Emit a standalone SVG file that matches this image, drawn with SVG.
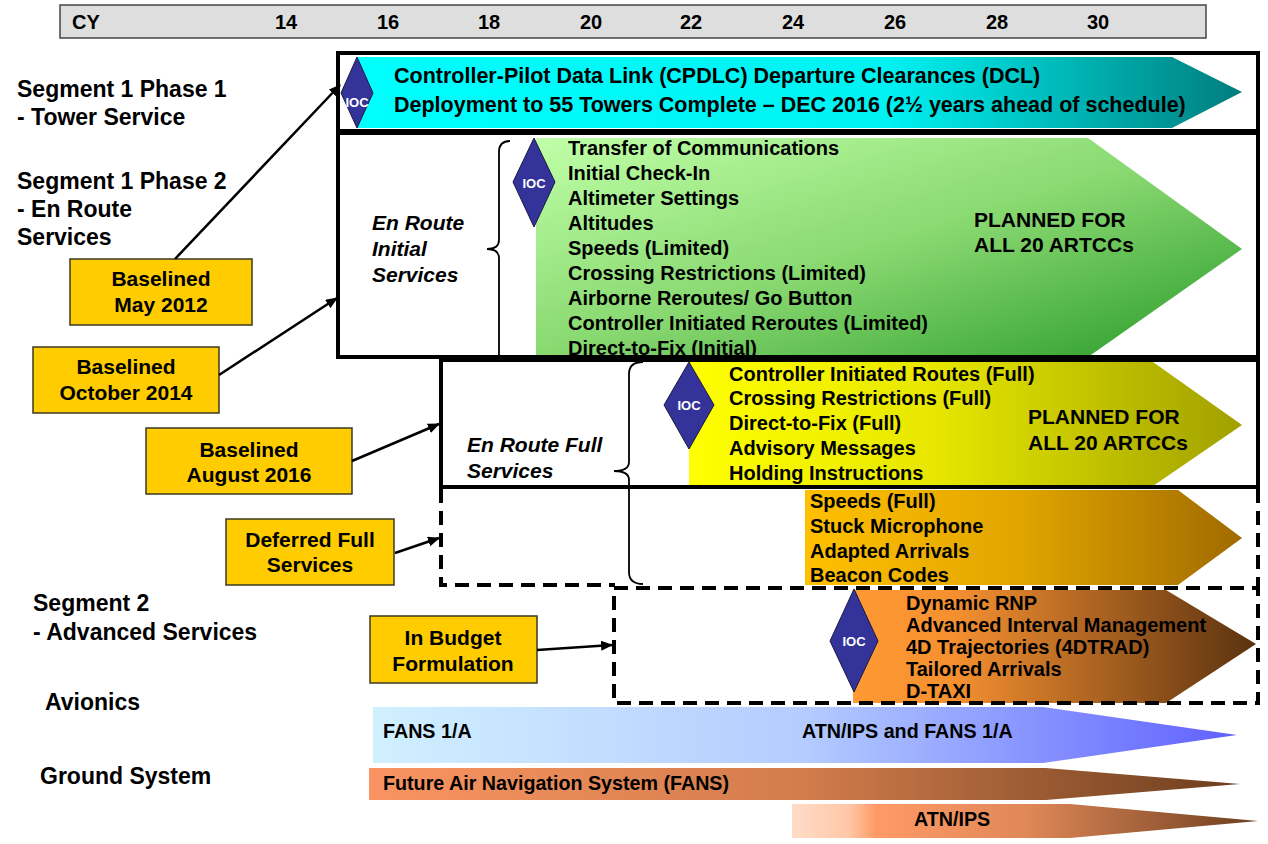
<svg xmlns="http://www.w3.org/2000/svg" width="1268" height="844" viewBox="0 0 1268 844">
<style>
text{font-family:"Liberation Sans",Arial,sans-serif;font-weight:bold;fill:#000}
.hdr{font-size:20px}
.lbl{font-size:23px}
.yb{font-size:21px}
.li{font-size:20px}
.it{font-size:21px;font-style:italic}
.pl{font-size:21px}
.bt{font-size:19.7px}
.ioc{font-size:13px;fill:#fff;text-anchor:middle}
.mid{text-anchor:middle}
.frame{fill:none;stroke:#000;stroke-width:4}
.dash{fill:none;stroke:#000;stroke-width:4;stroke-dasharray:14 8}
.ybox{fill:#ffcc00;stroke:#3a3a20;stroke-width:1.5}
.dia{fill:#333399;stroke:#1a1a40;stroke-width:1}
.brace{fill:none;stroke:#000;stroke-width:1.8}
.conn{fill:none;stroke:#000;stroke-width:2.5}
</style>
<defs>
<marker id="ah" markerUnits="userSpaceOnUse" markerWidth="12" markerHeight="10" refX="11" refY="5" orient="auto">
<path d="M0,0 L12,5 L0,10 Z" fill="#000"/>
</marker>
<linearGradient id="gCyan" x1="0" y1="0" x2="1" y2="0">
<stop offset="0" stop-color="#00ffff"/><stop offset="0.6" stop-color="#00f2f2"/><stop offset="1" stop-color="#007d7d"/>
</linearGradient>
<linearGradient id="gGreen" x1="0" y1="0" x2="1" y2="1">
<stop offset="0" stop-color="#c0ffa8"/><stop offset="0.5" stop-color="#88d870"/><stop offset="1" stop-color="#289a28"/>
</linearGradient>
<linearGradient id="gYellow" x1="0" y1="0" x2="1" y2="0">
<stop offset="0" stop-color="#ffff00"/><stop offset="0.45" stop-color="#e6e600"/><stop offset="1" stop-color="#a0a000"/>
</linearGradient>
<linearGradient id="gGold" x1="0" y1="0" x2="1" y2="0">
<stop offset="0" stop-color="#ffc000"/><stop offset="0.5" stop-color="#e0a400"/><stop offset="1" stop-color="#a06a00"/>
</linearGradient>
<linearGradient id="gBrown" x1="0" y1="0" x2="1" y2="0">
<stop offset="0" stop-color="#ff9933"/><stop offset="0.25" stop-color="#f59030"/><stop offset="1" stop-color="#5a3210"/>
</linearGradient>
<linearGradient id="gBlue" x1="0" y1="0" x2="1" y2="0">
<stop offset="0" stop-color="#d0f0ff"/><stop offset="0.5" stop-color="#b4ccff"/><stop offset="1" stop-color="#6060ff"/>
</linearGradient>
<linearGradient id="gSalmon" x1="0" y1="0" x2="1" y2="0">
<stop offset="0" stop-color="#f99462"/><stop offset="0.5" stop-color="#d27c4c"/><stop offset="1" stop-color="#6c3e1e"/>
</linearGradient>
<linearGradient id="gAtn" x1="0" y1="0" x2="1" y2="0">
<stop offset="0" stop-color="#ffdcc8"/><stop offset="0.12" stop-color="#ffc8a8"/><stop offset="0.18" stop-color="#ff9a66"/><stop offset="0.5" stop-color="#e08858"/><stop offset="1" stop-color="#6c3e1e"/>
</linearGradient>
</defs>

<g id="timeline-header">
<rect x="60" y="5" width="1146" height="33" fill="#dedede" stroke="#444" stroke-width="1.5"/>
<text class="hdr" x="72" y="29">CY</text>
<text class="hdr mid" x="286" y="29">14</text>
<text class="hdr mid" x="388" y="29">16</text>
<text class="hdr mid" x="489" y="29">18</text>
<text class="hdr mid" x="591" y="29">20</text>
<text class="hdr mid" x="691" y="29">22</text>
<text class="hdr mid" x="793" y="29">24</text>
<text class="hdr mid" x="895" y="29">26</text>
<text class="hdr mid" x="997" y="29">28</text>
<text class="hdr mid" x="1098" y="29">30</text>
</g>

<g id="row-labels">
<text class="lbl" x="17" y="97">Segment 1 Phase 1</text>
<text class="lbl" x="17" y="125">- Tower Service</text>
<text class="lbl" x="17" y="189">Segment 1 Phase 2</text>
<text class="lbl" x="17" y="217">- En Route</text>
<text class="lbl" x="17" y="245">Services</text>
<text class="lbl" x="33" y="611">Segment 2</text>
<text class="lbl" x="33" y="640">- Advanced Services</text>
<text class="lbl" x="45" y="710">Avionics</text>
<text class="lbl" x="40" y="784">Ground System</text>
</g>

<g id="tower-service">
<polygon points="358,57 1172,57 1242,92 1172,128 358,128" fill="url(#gCyan)"/>
<polygon class="dia" points="357,57 373,93 357,128 341,93"/>
<text class="ioc" x="357" y="107">IOC</text>
<text x="394" y="83" style="font-size:21.5px">Controller-Pilot Data Link (CPDLC) Departure Clearances (DCL)</text>
<text x="394" y="112" style="font-size:21.5px">Deployment to 55 Towers Complete – DEC 2016 (2½ years ahead of schedule)</text>
<rect class="frame" x="338" y="53" width="920" height="78"/>
</g>

<g id="en-route-initial">
<polygon points="536,138 1088,138 1242,249 1088,357 536,357" fill="url(#gGreen)"/>
<polygon class="dia" points="534,138 555,182 534,227 513,182"/>
<text class="ioc" x="534" y="188">IOC</text>
<path class="brace" d="M510,141 Q499,141 499,152 L499,240 Q499,249 487,249 Q499,249 499,258 L499,357"/>
<text class="it" x="372" y="230">En Route</text>
<text class="it" x="372" y="256">Initial</text>
<text class="it" x="372" y="282">Services</text>
<text class="li" x="568" y="155">Transfer of Communications</text>
<text class="li" x="568" y="180">Initial Check-In</text>
<text class="li" x="568" y="205">Altimeter Settings</text>
<text class="li" x="568" y="230">Altitudes</text>
<text class="li" x="568" y="255">Speeds (Limited)</text>
<text class="li" x="568" y="280">Crossing Restrictions (Limited)</text>
<text class="li" x="568" y="305">Airborne Reroutes/ Go Button</text>
<text class="li" x="568" y="330">Controller Initiated Reroutes (Limited)</text>
<text class="li" x="568" y="355">Direct-to-Fix (Initial)</text>
<text class="pl" x="974" y="227">PLANNED FOR</text>
<text class="pl" x="974" y="252">ALL 20 ARTCCs</text>
<rect class="frame" x="338" y="133" width="920" height="224"/>
</g>

<g id="en-route-full">
<polygon points="689,362 1153,362 1242,425 1153,486 689,486" fill="url(#gYellow)"/>
<polygon class="dia" points="689,362 714,405 689,449 664,405"/>
<text class="ioc" x="689" y="410">IOC</text>
<text class="it" x="467" y="452">En Route Full</text>
<text class="it" x="467" y="478">Services</text>
<text class="li" x="729" y="381">Controller Initiated Routes (Full)</text>
<text class="li" x="729" y="405">Crossing Restrictions (Full)</text>
<text class="li" x="729" y="430">Direct-to-Fix (Full)</text>
<text class="li" x="729" y="455">Advisory Messages</text>
<text class="li" x="729" y="480">Holding Instructions</text>
<text class="pl" x="1028" y="424">PLANNED FOR</text>
<text class="pl" x="1028" y="450">ALL 20 ARTCCs</text>
<rect class="frame" x="441" y="360" width="817" height="127"/>
</g>

<g id="deferred-full">
<polygon points="805,490 1178,490 1242,538 1178,585 805,585" fill="url(#gGold)"/>
<text class="li" x="810" y="508">Speeds (Full)</text>
<text class="li" x="810" y="533">Stuck Microphone</text>
<text class="li" x="810" y="558">Adapted Arrivals</text>
<text class="li" x="810" y="582">Beacon Codes</text>
<path class="dash" d="M441,489 L441,585 L615,585 M1258,489 L1258,587"/>
</g>

<g id="full-services-brace">
<path class="brace" d="M643,362 Q629,362 629,374 L629,462 Q629,471 614,471 Q629,471 629,480 L629,572 Q629,584 643,584"/>
</g>

<g id="advanced-services">
<polygon points="853,590 1166,590 1256,644 1166,703 853,703" fill="url(#gBrown)"/>
<polygon class="dia" points="854,589 878,641 854,692 830,641"/>
<text class="ioc" x="854" y="646">IOC</text>
<text class="li" x="906" y="610">Dynamic RNP</text>
<text class="li" x="906" y="632">Advanced Interval Management</text>
<text class="li" x="906" y="654">4D Trajectories (4DTRAD)</text>
<text class="li" x="906" y="676">Tailored Arrivals</text>
<text class="li" x="906" y="698">D-TAXI</text>
<rect class="dash" x="614" y="588" width="644" height="115"/>
</g>

<g id="avionics">
<polygon points="373,707 1043,707 1237,735 1043,763 373,763" fill="url(#gBlue)"/>
<text class="bt" x="383" y="738">FANS 1/A</text>
<text class="bt" x="802" y="738">ATN/IPS and FANS 1/A</text>
</g>

<g id="ground-fans">
<polygon points="369,768 1046,768 1240,784 1046,800 369,800" fill="url(#gSalmon)"/>
<text class="bt" x="383" y="790">Future Air Navigation System (FANS)</text>
</g>

<g id="ground-atn">
<polygon points="792,804 1070,804 1258,821 1070,838 792,838" fill="url(#gAtn)"/>
<text class="bt" x="914" y="826">ATN/IPS</text>
</g>

<g id="baselined-may-2012">
<rect class="ybox" x="70" y="259" width="182" height="66"/>
<text class="yb mid" x="161" y="286">Baselined</text>
<text class="yb mid" x="161" y="312">May 2012</text>
</g>
<g id="baselined-oct-2014">
<rect class="ybox" x="33" y="347" width="186" height="66"/>
<text class="yb mid" x="126" y="374">Baselined</text>
<text class="yb mid" x="126" y="400">October 2014</text>
</g>
<g id="baselined-aug-2016">
<rect class="ybox" x="146" y="428" width="206" height="66"/>
<text class="yb mid" x="249" y="457">Baselined</text>
<text class="yb mid" x="249" y="482">August 2016</text>
</g>
<g id="deferred-label">
<rect class="ybox" x="226" y="519" width="168" height="66"/>
<text class="yb mid" x="310" y="547">Deferred Full</text>
<text class="yb mid" x="310" y="572">Services</text>
</g>
<g id="budget-label">
<rect class="ybox" x="370" y="616" width="167" height="67"/>
<text class="yb mid" x="453" y="645">In Budget</text>
<text class="yb mid" x="453" y="671">Formulation</text>
</g>

<g id="connectors">
<line class="conn" x1="175" y1="259" x2="340" y2="85" marker-end="url(#ah)"/>
<line class="conn" x1="219" y1="375" x2="337" y2="298" marker-end="url(#ah)"/>
<line class="conn" x1="352" y1="461" x2="439" y2="424" marker-end="url(#ah)"/>
<line class="conn" x1="395" y1="553" x2="439" y2="538" marker-end="url(#ah)"/>
<line class="conn" x1="537" y1="650" x2="612" y2="645" marker-end="url(#ah)"/>
</g>
</svg>
